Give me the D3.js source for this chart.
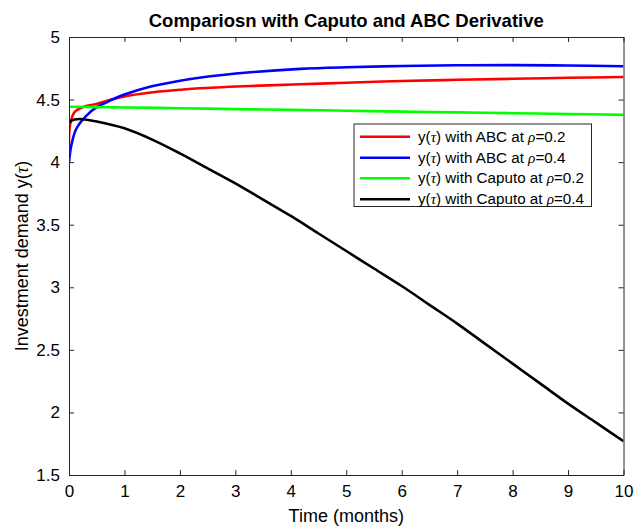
<!DOCTYPE html>
<html><head><meta charset="utf-8">
<script src="https://cdn.jsdelivr.net/npm/d3@7"></script>
<style>body{margin:0;background:#fff}svg{display:block}text{font-family:"Liberation Sans",Arial,sans-serif}</style>
</head><body><svg id="c" width="641" height="528"></svg>
<script>
const xTicks=[0,1,2,3,4,5,6,7,8,9,10];
const yTicks=[1.5,2,2.5,3,3.5,4,4.5,5];
const redT=[0,0.02,0.1,0.25,0.49,0.69,1,1.44,2,2.35,3.27,4.17,5,6,7,8,9,10];
const redV=[4.1,4.3,4.40,4.44,4.465,4.49,4.525,4.555,4.578,4.59,4.608,4.622,4.635,4.648,4.658,4.666,4.674,4.68];
const blueT=[0,0.04,0.13,0.31,0.52,0.69,0.8,1,1.44,2,2.35,3.27,4.17,5,6,7,8,9,10];
const blueV=[4.0,4.13,4.265,4.37,4.445,4.48,4.505,4.54,4.60,4.65,4.675,4.718,4.745,4.758,4.768,4.774,4.775,4.772,4.766];
const greenT=[0,1,2,3,4,5,6,7,8,9,10];
const greenV=[4.443,4.437,4.431,4.424,4.418,4.411,4.404,4.398,4.391,4.385,4.378];
const blackT=[0,0.1,0.2,0.5,1,1.5,2,2.5,3,3.5,4,4.5,5,5.5,6,6.5,7,7.5,8,8.5,9,9.5,10];
const blackV=[4.32,4.34,4.345,4.325,4.27,4.18,4.07,3.95,3.83,3.70,3.57,3.43,3.29,3.15,3.01,2.86,2.71,2.55,2.39,2.23,2.07,1.92,1.77];
const seriesNames=["ABC at ","ABC at ","Caputo at ","Caputo at "];
const rhoVals=["0.2","0.4","0.2","0.4"];
const colors=["#ff0000","#0000ff","#00ff00","#000000"];

const svg=d3.select("#c");
const L=69,R=623.5,T=37,B=475;
const x=d3.scaleLinear().domain([0,10]).range([L,R]);
const y=d3.scaleLinear().domain([1.5,5]).range([B,T]);
const ax="#262626";

svg.append("rect").attr("x",L).attr("y",T).attr("width",R-L).attr("height",B-T).attr("fill","#fff");

const series=[[redT,redV],[blueT,blueV],[greenT,greenV],[blackT,blackV]];
const line=d3.line().x(d=>x(d[0])).y(d=>y(d[1])).curve(d3.curveCatmullRom.alpha(0.5));
svg.append("clipPath").attr("id","cp").append("rect").attr("x",L).attr("y",T).attr("width",R-L).attr("height",B-T);
series.forEach((s,i)=>{
  const pts=s[0].map((t,j)=>[t,s[1][j]]);
  svg.append("path").attr("d",line(pts)).attr("fill","none").attr("stroke",colors[i]).attr("stroke-width",2.6).attr("stroke-linejoin","round").attr("clip-path","url(#cp)");
});

// axes
const fs=17;
const gB=svg.append("g").attr("transform",`translate(0,${B})`).call(d3.axisBottom(x).tickValues(xTicks).tickSize(-5).tickSizeOuter(0).tickPadding(10).tickFormat(d3.format("d")));
const gT=svg.append("g").attr("transform",`translate(0,${T})`).call(d3.axisTop(x).tickValues(xTicks).tickSize(-5).tickSizeOuter(0).tickFormat(""));
const gL=svg.append("g").attr("transform",`translate(${L},0)`).call(d3.axisLeft(y).tickValues(yTicks).tickSize(-5).tickSizeOuter(0).tickPadding(9).tickFormat(d=>String(d)));
const gR=svg.append("g").attr("transform",`translate(${R},0)`).call(d3.axisRight(y).tickValues(yTicks).tickSize(-5).tickSizeOuter(0).tickFormat(""));
[gB,gT,gL,gR].forEach(g=>{
  g.selectAll("path").attr("stroke",ax).attr("stroke-width",1);
  g.selectAll("line").attr("stroke",ax).attr("stroke-width",1);
  g.selectAll("text").attr("fill","#000").style("font-size",fs+"px").style("font-family","'Liberation Sans',Arial,sans-serif");
});

// title
svg.append("text").attr("x",(L+R)/2).attr("y",27).attr("text-anchor","middle").style("font-size","18.5px").style("font-weight","bold").text("Compariosn with Caputo and ABC Derivative");
// x label
svg.append("text").attr("x",(L+R)/2).attr("y",522).attr("text-anchor","middle").style("font-size","18px").text("Time (months)");
// y label
const yl=svg.append("text").attr("transform",`translate(28,${(T+B)/2}) rotate(-90)`).attr("text-anchor","middle").style("font-size","18px");
yl.append("tspan").text("Investment demand y(");
yl.append("tspan").style("font-style","italic").style("font-family","'Liberation Serif',serif").text("τ");
yl.append("tspan").text(")");

// legend
const lg=svg.append("g");
lg.append("rect").attr("x",354).attr("y",124).attr("width",237.5).attr("height",82.5).attr("fill","#fff").attr("stroke",ax).attr("stroke-width",1);
const rowY=[136.7,157.8,178.3,199.3];
colors.forEach((c,i)=>{
  lg.append("line").attr("x1",360).attr("x2",410).attr("y1",rowY[i]).attr("y2",rowY[i]).attr("stroke",c).attr("stroke-width",2.6);
  const t=lg.append("text").attr("x",418).attr("y",rowY[i]+5).style("font-size","15.2px");
  t.append("tspan").text("y(");
  t.append("tspan").style("font-style","italic").style("font-family","'Liberation Serif',serif").text("τ");
  t.append("tspan").text(") with "+seriesNames[i]);
  t.append("tspan").style("font-style","italic").style("font-family","'Liberation Serif',serif").text("ρ");
  t.append("tspan").text("="+rhoVals[i]);
});
</script></body></html>
